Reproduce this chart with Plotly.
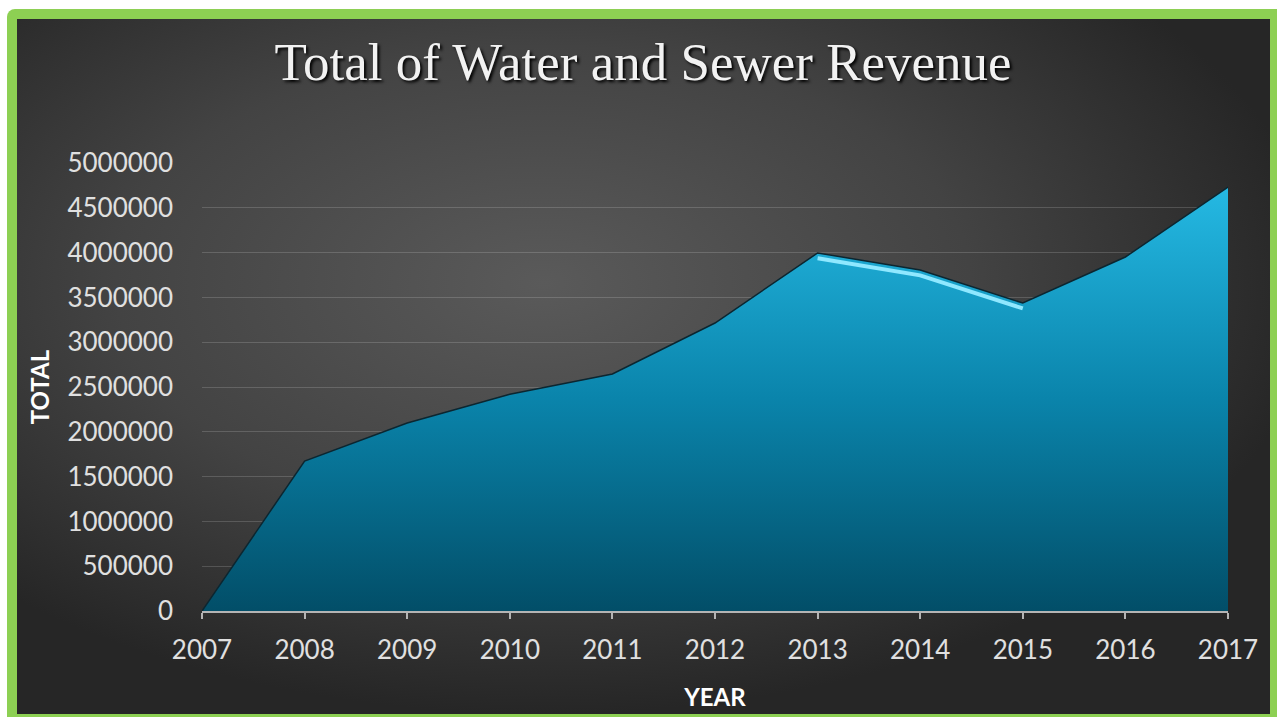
import base64
import plotly.graph_objects as go

years = [2007, 2008, 2009, 2010, 2011, 2012, 2013, 2014, 2015, 2016, 2017]
totals = [0, 1674000, 2098000, 2420000, 2645000, 3214000, 3996000, 3806000, 3437000, 3951000, 4732000]
y_ticks = [0, 500000, 1000000, 1500000, 2000000, 2500000, 3000000, 3500000, 4000000, 4500000, 5000000]
title_text = "Total of Water and Sewer Revenue"
x_title = "YEAR"
y_title = "TOTAL"

W, H = 1277, 717
L, R, T, B = 202, 49, 163, 106
pw, ph = W - L - R, H - T - B

svg = f"""<svg xmlns='http://www.w3.org/2000/svg' width='{W}' height='{H}' viewBox='0 0 {W} {H}' preserveAspectRatio='none'>
<defs>
<radialGradient id='g' cx='0.42' cy='0.38' r='0.62'>
<stop offset='0' stop-color='#5a5a5a'/>
<stop offset='0.55' stop-color='#434343'/>
<stop offset='1' stop-color='#262626'/>
</radialGradient>
</defs>
<rect width='{W}' height='{H}' fill='#ffffff'/>
<rect x='7' y='9' width='{W+20}' height='{H+20}' rx='8' fill='#8dd053'/>
<rect x='17' y='19' width='1253' height='695' fill='url(#g)'/>
</svg>"""
uri = "data:image/svg+xml;base64," + base64.b64encode(svg.encode()).decode()

fig = go.Figure()
fig.add_trace(go.Scatter(
    x=years, y=totals, mode="lines", fill="tozeroy",
    line=dict(color="#0c2630", width=1.5),
    fillgradient=dict(type="vertical",
                      colorscale=[[0, "#024e68"], [0.5, "#0a84ab"], [1, "#25b9e3"]]),
    hoverinfo="x+y", showlegend=False,
))
# light bevel highlight along the 2013-2015 edge
hl_x = years[6:9]
hl_y = [v - 60000 for v in totals[6:9]]
fig.add_trace(go.Scatter(
    x=hl_x, y=hl_y, mode="lines",
    line=dict(color="#8fe8ff", width=4),
    hoverinfo="skip", showlegend=False,
))

tick_font = dict(family="Lato, 'Open Sans', sans-serif", size=26, color="#e0e0e0")
fig.update_layout(
    width=W, height=H,
    margin=dict(l=L, r=R, t=T, b=B, autoexpand=False),
    paper_bgcolor="#ffffff",
    plot_bgcolor="rgba(0,0,0,0)",
    images=[dict(source=uri, xref="paper", yref="paper",
                 x=-L / pw, y=(ph + T) / ph, sizex=W / pw, sizey=H / ph,
                 xanchor="left", yanchor="top", sizing="stretch", layer="below")],
    title=dict(text=title_text, x=643 / W, xref="container", xanchor="center",
               y=1 - 61 / H, yref="container", yanchor="middle",
               font=dict(family="'Liberation Serif', 'DejaVu Serif', serif", size=53,
                         color="#f2f2f2", shadow="2px 2px 3px #000000")),
    xaxis=dict(range=[2007, 2017], tickmode="array", tickvals=years,
               ticktext=[str(y) for y in years], showgrid=False, zeroline=False,
               showline=True, linecolor="#b4b4b4", linewidth=2,
               ticks="outside", ticklen=6, tickwidth=2, tickcolor="#b4b4b4",
               tickfont=tick_font, ticklabelstandoff=9,
               title=dict(text=x_title, standoff=25,
                          font=dict(family="Lato, sans-serif", size=24, color="#ffffff", weight="bold"))),
    yaxis=dict(range=[0, 5000000], tickmode="array", tickvals=y_ticks,
               ticktext=[str(v) for v in y_ticks], showgrid=True,
               gridcolor="rgba(255,255,255,0.16)", gridwidth=1, zeroline=False,
               showline=False, ticks="", tickfont=tick_font, ticklabelstandoff=28,
               title=dict(text=y_title, standoff=11,
                          font=dict(family="Lato, sans-serif", size=24, color="#ffffff", weight="bold"))),
)

fig.write_html("out.html", config={"displayModeBar": False},
               post_script="document.body.style.margin='0';document.body.style.overflow='hidden';")
